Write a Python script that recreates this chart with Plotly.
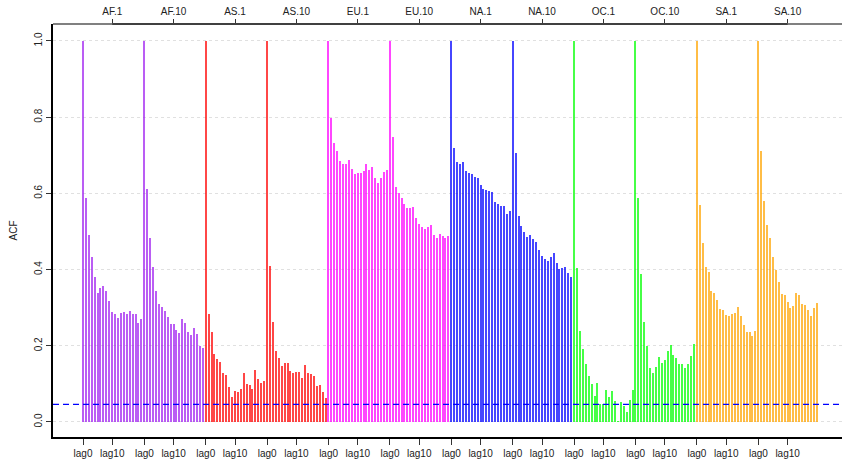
import plotly.graph_objects as go

groups = ["AF.1", "AF.10", "AS.1", "AS.10", "EU.1", "EU.10",
          "NA.1", "NA.10", "OC.1", "OC.10", "SA.1", "SA.10"]
colors = ["#A020F0", "#A020F0", "#FF0000", "#FF0000", "#FF00FF", "#FF00FF",
          "#0000FF", "#0000FF", "#00FF00", "#00FF00", "#FFA500", "#FFA500"]

af1 = [1.0, 0.589, 0.492, 0.432, 0.380, 0.339, 0.353, 0.358, 0.345, 0.318, 0.290,
       0.283, 0.272, 0.285, 0.288, 0.283, 0.291, 0.284, 0.283, 0.261, 0.270]
af10 = [1.0, 0.612, 0.482, 0.406, 0.344, 0.311, 0.303, 0.291, 0.276, 0.256, 0.256,
        0.241, 0.234, 0.270, 0.261, 0.235, 0.228, 0.246, 0.230, 0.200, 0.193]
as1 = [1.0, 0.283, 0.237, 0.179, 0.165, 0.158, 0.128, 0.123, 0.092, 0.066, 0.081,
       0.080, 0.086, 0.128, 0.099, 0.096, 0.087, 0.136, 0.114, 0.102, 0.108]
as10 = [1.0, 0.410, 0.262, 0.187, 0.168, 0.147, 0.154, 0.154, 0.135, 0.129, 0.131,
        0.131, 0.115, 0.149, 0.129, 0.126, 0.120, 0.094, 0.096, 0.079, 0.063]
eu1 = [1.0, 0.798, 0.731, 0.710, 0.685, 0.677, 0.678, 0.688, 0.665, 0.650, 0.653,
       0.653, 0.658, 0.677, 0.661, 0.670, 0.641, 0.628, 0.640, 0.656, 0.662]
eu10 = [1.0, 0.748, 0.618, 0.600, 0.587, 0.571, 0.562, 0.562, 0.563, 0.536, 0.519,
        0.512, 0.507, 0.511, 0.516, 0.490, 0.483, 0.493, 0.488, 0.484, 0.488]
na1 = [1.0, 0.719, 0.682, 0.677, 0.683, 0.660, 0.653, 0.652, 0.644, 0.641, 0.622,
       0.612, 0.608, 0.605, 0.604, 0.577, 0.572, 0.567, 0.566, 0.546, 0.554]
na10 = [1.0, 0.705, 0.541, 0.515, 0.499, 0.486, 0.490, 0.481, 0.472, 0.451, 0.436,
        0.428, 0.423, 0.433, 0.443, 0.417, 0.402, 0.405, 0.407, 0.392, 0.381]
oc1 = [1.0, 0.403, 0.239, 0.192, 0.151, 0.120, 0.099, 0.068, 0.102, 0.046, 0.046,
       0.083, 0.065, 0.081, 0.056, 0.001, 0.053, 0.042, 0.025, 0.058, 0.084]
oc10 = [1.0, 0.589, 0.388, 0.262, 0.200, 0.142, 0.129, 0.145, 0.171, 0.156, 0.163,
        0.186, 0.202, 0.175, 0.167, 0.151, 0.152, 0.142, 0.151, 0.174, 0.206]
sa1 = [1.0, 0.570, 0.469, 0.406, 0.394, 0.343, 0.338, 0.320, 0.297, 0.294, 0.281,
       0.278, 0.283, 0.287, 0.302, 0.278, 0.255, 0.235, 0.235, 0.226, 0.238]
sa10 = [1.0, 0.711, 0.580, 0.517, 0.483, 0.433, 0.399, 0.367, 0.336, 0.333, 0.315,
        0.300, 0.304, 0.338, 0.333, 0.311, 0.307, 0.294, 0.278, 0.300, 0.312]

series = [af1, af10, as1, as10, eu1, eu10, na1, na10, oc1, oc10, sa1, sa10]
ci_level = 0.046
nlag = 21
ytick_vals = [0.0, 0.2, 0.4, 0.6, 0.8, 1.0]
ytick_text = ["0.0", "0.2", "0.4", "0.6", "0.8", "1.0"]

FONT = "Liberation Sans, Arial, sans-serif"

fig = go.Figure()
for g, (name, vals, col) in enumerate(zip(groups, series, colors)):
    xs = [g * nlag + k for k in range(nlag)]
    fig.add_trace(go.Bar(x=xs, y=vals, width=0.42, opacity=0.72,
                         marker=dict(color=col, line=dict(width=0)),
                         name=name, showlegend=False))

# dummy trace to activate top axis
fig.add_trace(go.Scatter(x=[0], y=[0], xaxis="x2", mode="markers",
                         marker=dict(opacity=0), showlegend=False, hoverinfo="skip"))

bottom_vals, bottom_text = [], []
for g in range(len(groups)):
    bottom_vals += [g * nlag, g * nlag + 10]
    bottom_text += ["lag0", "lag10"]
top_vals = [g * nlag + 10 for g in range(len(groups))]

xr = [-10.26, 259.6]
fig.update_layout(
    width=842, height=466,
    margin=dict(l=53, r=0, t=24, b=29),
    plot_bgcolor="white", paper_bgcolor="white",
    font=dict(family=FONT, size=10, color="#222"),
    bargap=0,
    xaxis=dict(range=xr, tickvals=bottom_vals, ticktext=bottom_text,
               ticks="outside", ticklen=6, tickcolor="#333", showgrid=False,
               zeroline=False, showline=True, linecolor="black", linewidth=1.5,
               tickfont=dict(size=10)),
    xaxis2=dict(range=xr, overlaying="x", side="top", tickvals=top_vals,
                ticktext=groups, ticks="outside", ticklen=4, tickcolor="#333",
                showgrid=False, zeroline=False, showline=False,
                tickfont=dict(size=10)),
    yaxis=dict(range=[-0.0394, 1.0446], tickvals=ytick_vals, ticktext=ytick_text,
               ticks="outside", ticklen=5, tickcolor="#333", tickangle=-90,
               showgrid=True, gridcolor="#e0e0e0", griddash="dot", gridwidth=1,
               zeroline=False, showline=True, linecolor="black", linewidth=1.5,
               title=dict(text="ACF", standoff=14, font=dict(size=10)),
               tickfont=dict(size=10)),
    shapes=[
        dict(type="line", xref="paper", yref="paper", x0=0, x1=1, y0=1, y1=1,
             line=dict(color="#808080", width=2)),
        dict(type="line", xref="x", yref="paper", x0=top_vals[0], x1=top_vals[-1],
             y0=1, y1=1, line=dict(color="#404040", width=2)),
        dict(type="line", xref="paper", yref="y", x0=0, x1=1, y0=ci_level, y1=ci_level,
             line=dict(color="blue", width=1.3, dash="6px,4px")),
    ],
)

fig.write_html("out.html")
